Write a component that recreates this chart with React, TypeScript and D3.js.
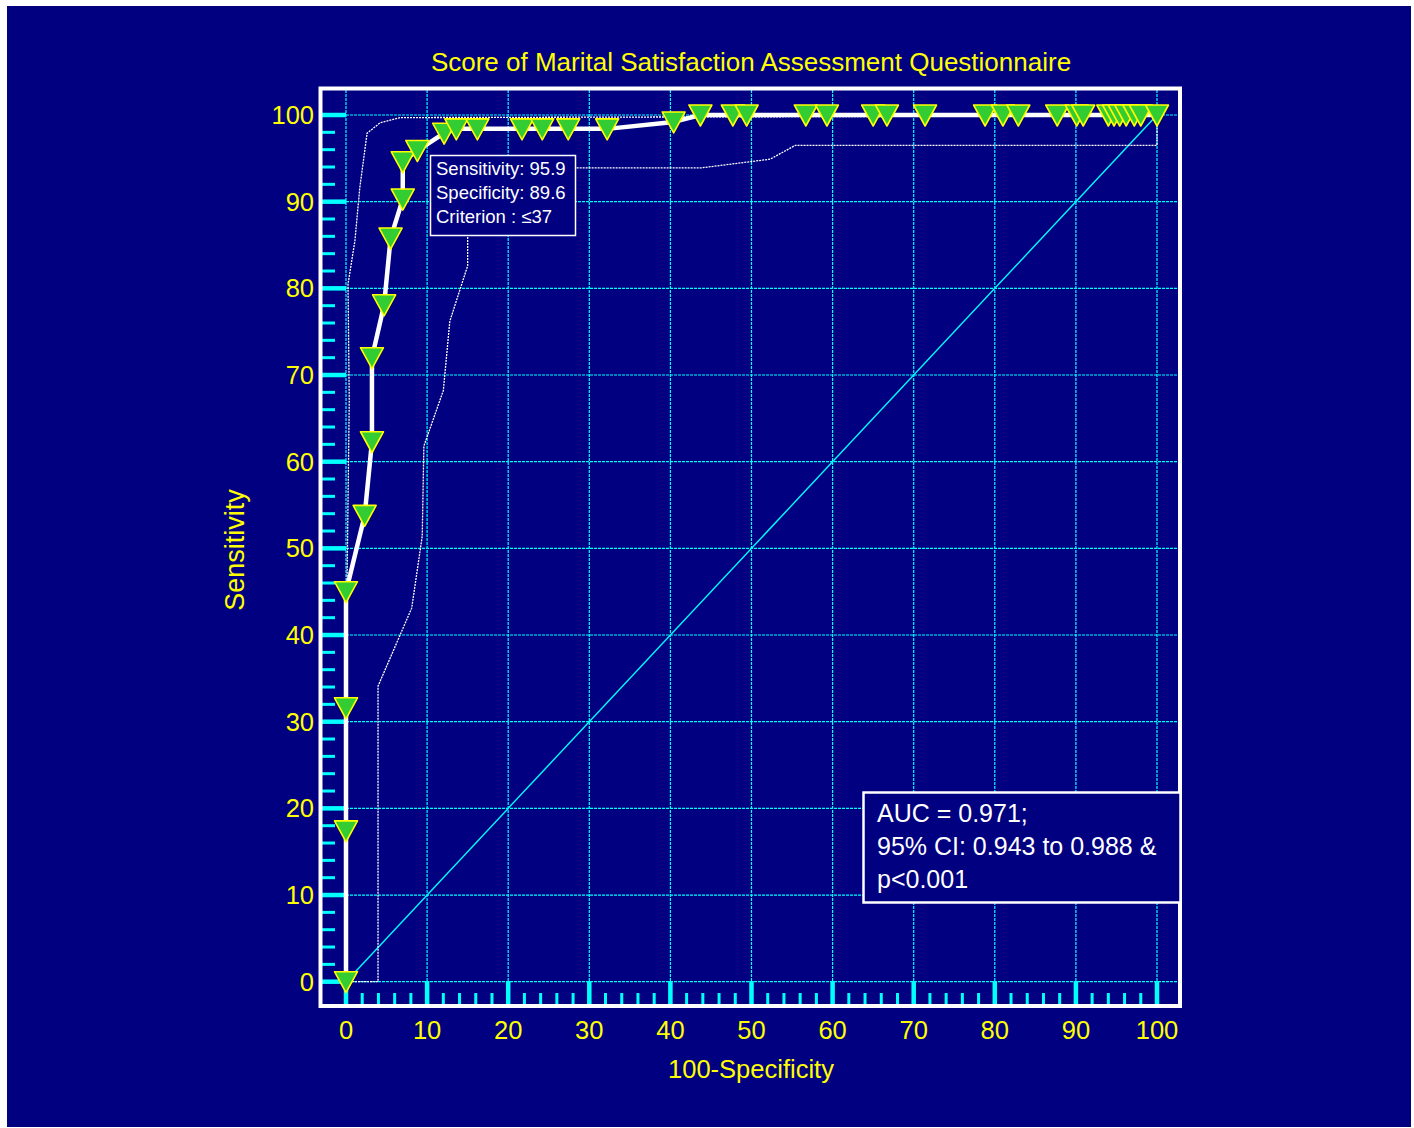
import React, { useRef, useEffect } from "react";
import * as d3 from "d3";

const title = "Score of Marital Satisfaction Assessment Questionnaire";

// ROC curve points (100-specificity, sensitivity)
const fpr = [0, 0, 0, 0, 2.3, 3.2, 3.2, 4.7, 5.5, 7.0, 7.0, 8.8, 12.1, 13.6, 16.2, 21.7, 24.2, 27.4, 32.2, 40.4, 43.7, 47.7, 49.4, 56.7, 59.3, 65.0, 66.7, 71.4, 78.8, 81.0, 82.9, 87.7, 90.1, 90.9, 94.0, 94.7, 95.4, 96.2, 97.2, 98.0, 100];
const sens = [0, 17.4, 31.6, 45.0, 53.8, 62.3, 72.0, 78.1, 85.8, 90.3, 94.6, 95.9, 97.9, 98.4, 98.4, 98.4, 98.4, 98.4, 98.4, 99.2, 100, 100, 100, 100, 100, 100, 100, 100, 100, 100, 100, 100, 100, 100, 100, 100, 100, 100, 100, 100, 100];

// confidence bounds
const upperX = [0, 0.1, 0.4, 0.25, 1.1, 1.7, 2.6, 4.2, 6.7, 100];
const upperY = [0, 43.9, 67, 80.5, 85.5, 91.6, 97.9, 99.1, 99.7, 99.9];
const lowerX = [0, 3.95, 3.95, 8.1, 9.4, 9.6, 12.0, 12.8, 15.0, 15.0, 43.8, 52.3, 55.4, 100, 100];
const lowerY = [0, 0, 34.1, 43.1, 51.4, 61.8, 68.2, 76.2, 82.6, 93.9, 93.9, 94.9, 96.5, 96.5, 100];

const ticks = [0, 10, 20, 30, 40, 50, 60, 70, 80, 90, 100];
const minorTicks = d3.range(0, 101, 2).filter(v => v % 10 !== 0);

const criterionLines = ["Sensitivity: 95.9", "Specificity: 89.6", "Criterion : \u226437"];
const aucLines = ["AUC = 0.971;", "95% CI: 0.943 to 0.988 &", "p<0.001"];

const NAVY = "#000080";
const CYAN = "#00ffff";
const YELLOW = "#ffff00";
const FONT = "'Liberation Sans', Arial, sans-serif";

const RocChart = () => {
    const ref = useRef(null);

    const drawChart = () => {
        const svg = d3.select(ref.current);

        const x = d3.scaleLinear().domain([0, 100]).range([346, 1157]);
        const y = d3.scaleLinear().domain([0, 100]).range([981.7, 115]);

        svg.append("rect").attr("x", 7).attr("y", 6).attr("width", 1404).attr("height", 1121).attr("fill", NAVY);

        // grid
        const grid = svg.append("g").attr("stroke", CYAN).attr("stroke-width", 1.2).attr("stroke-dasharray", "3,1");
        grid.selectAll(".gx").data(ticks).join("line")
            .attr("x1", d => x(d)).attr("x2", d => x(d))
            .attr("y1", 90).attr("y2", 1004);
        grid.selectAll(".gy").data(ticks).join("line")
            .attr("x1", 322).attr("x2", 1178)
            .attr("y1", d => y(d)).attr("y2", d => y(d));

        // reference diagonal
        svg.append("line")
            .attr("x1", x(0)).attr("y1", y(0)).attr("x2", x(100)).attr("y2", y(100))
            .attr("stroke", CYAN).attr("stroke-width", 1.4);

        // axis ticks
        const tk = svg.append("g").attr("stroke", CYAN);
        tk.selectAll(".ym").data(ticks).join("line")
            .attr("x1", 322).attr("x2", 346).attr("y1", d => y(d)).attr("y2", d => y(d))
            .attr("stroke-width", 4.5);
        tk.selectAll(".yn").data(minorTicks).join("line")
            .attr("x1", 322).attr("x2", 335).attr("y1", d => y(d)).attr("y2", d => y(d))
            .attr("stroke-width", 3);
        tk.selectAll(".xm").data(ticks).join("line")
            .attr("y1", 981).attr("y2", 1004).attr("x1", d => x(d)).attr("x2", d => x(d))
            .attr("stroke-width", 4.5);
        tk.selectAll(".xn").data(minorTicks).join("line")
            .attr("y1", 993).attr("y2", 1004).attr("x1", d => x(d)).attr("x2", d => x(d))
            .attr("stroke-width", 3);

        // frame
        svg.append("rect").attr("x", 320.5).attr("y", 88.5).attr("width", 859.5).attr("height", 917.5)
            .attr("fill", "none").attr("stroke", "white").attr("stroke-width", 4);

        // tick labels
        svg.append("g").selectAll("text").data(ticks).join("text")
            .attr("x", 314).attr("y", d => y(d) + 9)
            .attr("text-anchor", "end").attr("fill", YELLOW)
            .attr("font-family", FONT).attr("font-size", 25.5)
            .text(d => d);
        svg.append("g").selectAll("text").data(ticks).join("text")
            .attr("x", d => x(d)).attr("y", 1039)
            .attr("text-anchor", "middle").attr("fill", YELLOW)
            .attr("font-family", FONT).attr("font-size", 25.5)
            .text(d => d);

        // titles
        svg.append("text").attr("x", 751).attr("y", 71).attr("text-anchor", "middle")
            .attr("fill", YELLOW).attr("font-family", FONT).attr("font-size", 26).text(title);
        svg.append("text").attr("x", 751).attr("y", 1078).attr("text-anchor", "middle")
            .attr("fill", YELLOW).attr("font-family", FONT).attr("font-size", 25.5).text("100-Specificity");
        svg.append("text").attr("transform", "translate(244,550) rotate(-90)").attr("text-anchor", "middle")
            .attr("fill", YELLOW).attr("font-family", FONT).attr("font-size", 27).text("Sensitivity");

        // confidence bounds
        const line = d3.line().x(d => x(d[0])).y(d => y(d[1]));
        [d3.zip(upperX, upperY), d3.zip(lowerX, lowerY)].forEach(pts => {
            svg.append("path").datum(pts).attr("d", line)
                .attr("fill", "none").attr("stroke", "white")
                .attr("stroke-width", 1.3).attr("stroke-dasharray", "2,1");
        });

        // ROC curve
        const roc = d3.zip(fpr, sens);
        svg.append("path").datum(roc).attr("d", line)
            .attr("fill", "none").attr("stroke", "white")
            .attr("stroke-width", 4.5).attr("stroke-linejoin", "round");

        svg.append("g").selectAll("path").data(roc).join("path")
            .attr("d", "M-11.5,-10 L11.5,-10 L0,11 Z")
            .attr("transform", d => `translate(${x(d[0])},${y(d[1])})`)
            .attr("fill", "#33cc33").attr("stroke", YELLOW).attr("stroke-width", 1.6)
            .attr("stroke-linejoin", "round");

        // criterion box
        svg.append("rect").attr("x", 430.5).attr("y", 155.5).attr("width", 145).attr("height", 80)
            .attr("fill", NAVY).attr("stroke", "white").attr("stroke-width", 1.5);
        svg.append("g").selectAll("text").data(criterionLines).join("text")
            .attr("x", 436).attr("y", (d, i) => 175 + i * 24)
            .attr("fill", "white").attr("font-family", FONT).attr("font-size", 18.5)
            .text(d => d);

        // AUC box
        svg.append("rect").attr("x", 863.5).attr("y", 792.5).attr("width", 317).attr("height", 110)
            .attr("fill", NAVY).attr("stroke", "white").attr("stroke-width", 2.5);
        svg.append("g").selectAll("text").data(aucLines).join("text")
            .attr("x", 877).attr("y", (d, i) => 822 + i * 33)
            .attr("fill", "white").attr("font-family", FONT).attr("font-size", 25)
            .text(d => d);
    };

    useEffect(() => {
        if (ref.current) {
            d3.select(ref.current).selectAll("*").remove();
            drawChart();
        }
    }, []);

    return (
        <svg ref={ref} width={1414} height={1128}
            style={{ position: "absolute", left: 0, top: 0, background: "white" }} />
    );
};

export default function App() {
    return <RocChart />;
}
